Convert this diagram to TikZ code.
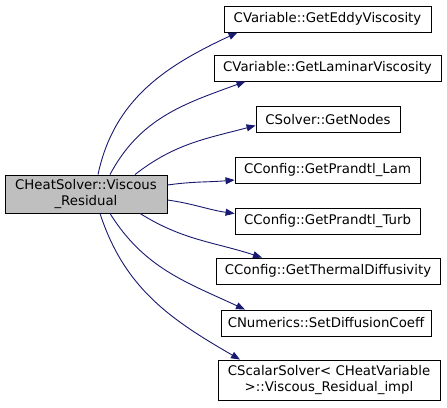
\documentclass[tikz,border=0pt]{standalone}
\usepackage{fontspec}
\setmainfont{DejaVu Sans}
\usepackage{tikz}
\usetikzlibrary{arrows.meta,positioning}
\definecolor{callblue}{HTML}{191970}
\definecolor{rootgray}{HTML}{BFBFBF}
\tikzset{
  >={Triangle[length=9pt,width=7pt]},
  fn/.style={
    draw, rectangle, align=center, inner sep=2pt, font=\fontsize{13.3}{16}\selectfont,
    minimum height=26pt, line width=0.9pt
  },
  rootfn/.style={
    fn, fill=rootgray, minimum height=38pt, minimum width=162pt
  },
  call/.style={
    ->, draw=callblue, line width=0.9pt
  },
}
\begin{document}
\begin{tikzpicture}[x=1pt,y=1pt]
  \useasboundingbox (0,0) rectangle (447,-407);
  \node[rootfn] (root) at (86,-194) {CHeatSolver::Viscous\\\_Residual};

  \node[fn, minimum width=207pt] (eddy) at (327.5,-19) {CVariable::GetEddyViscosity};
  \node[fn, minimum width=227pt] (laminar) at (327.5,-68) {CVariable::GetLaminarViscosity};
  \node[fn, minimum width=144pt] (nodes) at (328,-119.5) {CSolver::GetNodes};
  \node[fn, minimum width=185pt] (plam) at (327.5,-170) {CConfig::GetPrandtl\_Lam};
  \node[fn, minimum width=185pt] (pturb) at (327.5,-221.5) {CConfig::GetPrandtl\_Turb};
  \node[fn, minimum width=224pt] (thermal) at (328,-271) {CConfig::GetThermalDiffusivity};
  \node[fn, minimum width=210pt] (diffusion) at (326,-323) {CNumerics::SetDiffusionCoeff};
  \node[fn, minimum width=222pt, minimum height=40pt] (scalar) at (329,-380)
    {CScalarSolver\textless{} CHeatVariable\\ \textgreater::Viscous\_Residual\_impl};

  \draw[call] ([xshift=12pt]root.north) to[out=78,in=205] ([xshift=-90pt]eddy.south);
  \draw[call] ([xshift=24pt]root.north) to[out=62,in=200] ([xshift=-82pt]laminar.south);
  \draw[call] ([xshift=49pt]root.north) to[out=38,in=195] ([yshift=-6pt]nodes.west);
  \draw[call] ([yshift=9pt]root.east) to[out=8,in=185] ([yshift=-10pt]plam.west);
  \draw[call] ([yshift=-6pt]root.east) to[out=-8,in=172] ([yshift=8pt]pturb.west);
  \draw[call] ([xshift=54pt]root.south) to[out=-32,in=162] ([xshift=-66pt]thermal.north);
  \draw[call] ([xshift=24pt]root.south) to[out=-58,in=155] ([xshift=-81pt]diffusion.north);
  \draw[call] ([xshift=14pt]root.south) to[out=-72,in=150] ([xshift=-89pt]scalar.north);
\end{tikzpicture}
\end{document}
